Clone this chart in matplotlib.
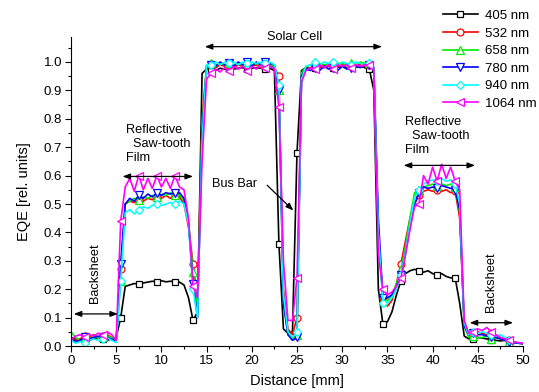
import numpy as np
import matplotlib
matplotlib.use("Agg")
import matplotlib.pyplot as plt
from matplotlib.ticker import MultipleLocator

plt.rcParams['font.family'] = ['Liberation Sans', 'DejaVu Sans']

# distance grid, 0.5 mm steps
dist = np.arange(0, 50.01, 0.5)

labels = ["405 nm", "532 nm", "658 nm", "780 nm", "940 nm", "1064 nm"]

# 0-5 | 5.5-14 | 14.5-22.5 | 23-25 | 25.5-33 | 33.5-38 | 38.5-43 | 43.5-50
eqe_405 = ([0.03, 0.025, 0.02, 0.025, 0.02, 0.025, 0.03, 0.025, 0.02, 0.025, 0.03]
           + [0.1, 0.21, 0.215, 0.22, 0.218, 0.222, 0.225, 0.228, 0.227, 0.23, 0.226, 0.228, 0.227, 0.225, 0.215, 0.17, 0.09, 0.12]
           + [0.96, 0.975, 0.975, 0.97, 0.978, 0.975, 0.98, 0.975, 0.978, 0.98, 0.975, 0.978, 0.98, 0.978, 0.975, 0.978, 0.97]
           + [0.36, 0.06, 0.045, 0.05, 0.68]
           + [0.97, 0.98, 0.978, 0.98, 0.982, 0.98, 0.985, 0.98, 0.982, 0.985, 0.98, 0.985, 0.982, 0.985, 0.98, 0.975]
           + [0.9, 0.2, 0.078, 0.085, 0.12, 0.18, 0.23, 0.255, 0.265, 0.27]
           + [0.265, 0.26, 0.265, 0.255, 0.25, 0.255, 0.245, 0.24, 0.24, 0.15]
           + [0.035, 0.025, 0.025, 0.03, 0.028, 0.025, 0.022, 0.02, 0.018, 0.02, 0.015, 0.012, 0.01, 0.01])

eqe_532 = ([0.03, 0.02, 0.025, 0.035, 0.03, 0.04, 0.03, 0.035, 0.04, 0.03, 0.02]
           + [0.27, 0.5, 0.51, 0.505, 0.515, 0.51, 0.52, 0.515, 0.525, 0.52, 0.53, 0.52, 0.53, 0.525, 0.5, 0.42, 0.29, 0.16]
           + [0.8, 0.985, 0.99, 0.98, 0.99, 0.985, 0.99, 0.98, 0.99, 0.985, 0.99, 0.985, 0.99, 0.98, 0.985, 0.99, 0.98]
           + [0.95, 0.2, 0.06, 0.04, 0.10]
           + [0.95, 0.975, 0.98, 0.985, 0.98, 0.99, 0.985, 0.99, 0.985, 0.99, 0.99, 0.985, 0.99, 0.99, 0.985, 0.99]
           + [0.97, 0.4, 0.17, 0.14, 0.16, 0.22, 0.29, 0.37, 0.45, 0.5]
           + [0.53, 0.545, 0.55, 0.545, 0.55, 0.545, 0.55, 0.54, 0.545, 0.45]
           + [0.08, 0.035, 0.04, 0.05, 0.045, 0.04, 0.045, 0.035, 0.03, 0.025, 0.02, 0.015, 0.01, 0.008])

eqe_658 = ([0.05, 0.03, 0.02, 0.03, 0.025, 0.035, 0.03, 0.03, 0.035, 0.03, 0.02]
           + [0.23, 0.5, 0.51, 0.52, 0.515, 0.525, 0.52, 0.53, 0.525, 0.535, 0.53, 0.54, 0.53, 0.535, 0.51, 0.44, 0.26, 0.13]
           + [0.78, 0.99, 0.995, 0.99, 0.995, 0.99, 0.995, 0.99, 0.995, 0.99, 1.0, 0.99, 0.995, 0.99, 0.995, 0.99, 0.985]
           + [0.9, 0.15, 0.04, 0.025, 0.04]
           + [0.96, 0.985, 0.99, 0.99, 0.995, 0.99, 0.995, 0.99, 0.995, 0.995, 0.99, 0.995, 0.99, 1.0, 0.995, 0.995]
           + [0.975, 0.4, 0.16, 0.16, 0.18, 0.22, 0.27, 0.35, 0.45, 0.54]
           + [0.55, 0.56, 0.565, 0.57, 0.565, 0.57, 0.565, 0.57, 0.56, 0.47]
           + [0.07, 0.03, 0.035, 0.03, 0.03, 0.035, 0.025, 0.03, 0.025, 0.02, 0.015, 0.012, 0.01, 0.008])

eqe_780 = ([0.03, 0.015, 0.02, 0.03, 0.025, 0.03, 0.035, 0.03, 0.03, 0.025, 0.015]
           + [0.29, 0.5, 0.52, 0.51, 0.53, 0.52, 0.535, 0.525, 0.54, 0.53, 0.54, 0.535, 0.54, 0.54, 0.52, 0.43, 0.22, 0.1]
           + [0.75, 0.98, 0.99, 0.985, 1.0, 0.99, 0.995, 0.985, 1.0, 0.99, 1.0, 0.985, 1.0, 0.99, 1.0, 0.995, 0.99]
           + [0.9, 0.15, 0.04, 0.02, 0.03]
           + [0.95, 0.975, 0.97, 0.98, 0.97, 0.985, 0.975, 0.98, 0.97, 0.985, 0.975, 0.98, 0.985, 0.98, 0.99, 0.99]
           + [0.98, 0.45, 0.17, 0.17, 0.18, 0.21, 0.25, 0.33, 0.42, 0.5]
           + [0.54, 0.56, 0.555, 0.56, 0.555, 0.565, 0.56, 0.555, 0.55, 0.48]
           + [0.07, 0.04, 0.045, 0.04, 0.04, 0.035, 0.03, 0.03, 0.025, 0.02, 0.015, 0.012, 0.01, 0.008])

eqe_940 = ([0.02, 0.01, 0.015, 0.01, 0.02, 0.025, 0.02, 0.025, 0.03, 0.02, 0.012]
           + [0.23, 0.47, 0.48, 0.465, 0.48, 0.49, 0.485, 0.495, 0.5, 0.495, 0.5, 0.505, 0.5, 0.51, 0.5, 0.43, 0.2, 0.1]
           + [0.72, 0.99, 0.99, 1.0, 0.99, 1.0, 0.995, 1.0, 0.99, 1.0, 0.995, 1.0, 0.995, 1.0, 0.995, 1.0, 0.99]
           + [0.92, 0.18, 0.05, 0.03, 0.05]
           + [0.94, 0.985, 0.99, 1.0, 0.99, 1.0, 0.995, 1.0, 0.99, 1.0, 0.995, 0.99, 1.0, 0.995, 0.99, 0.995]
           + [0.975, 0.4, 0.15, 0.15, 0.17, 0.2, 0.25, 0.33, 0.43, 0.52]
           + [0.55, 0.57, 0.58, 0.585, 0.58, 0.59, 0.58, 0.585, 0.57, 0.5]
           + [0.08, 0.04, 0.05, 0.045, 0.05, 0.045, 0.04, 0.035, 0.04, 0.03, 0.02, 0.015, 0.012, 0.01])

eqe_1064 = ([0.02, 0.035, 0.04, 0.03, 0.04, 0.035, 0.045, 0.04, 0.05, 0.04, 0.02]
            + [0.44, 0.56, 0.59, 0.545, 0.6, 0.55, 0.59, 0.555, 0.6, 0.56, 0.59, 0.555, 0.6, 0.56, 0.55, 0.45, 0.21, 0.17]
            + [0.65, 0.94, 0.96, 0.975, 0.965, 0.98, 0.97, 0.985, 0.975, 0.985, 0.97, 0.985, 0.975, 0.99, 0.98, 0.985, 0.975]
            + [0.84, 0.3, 0.09, 0.09, 0.24]
            + [0.93, 0.97, 0.98, 0.975, 0.99, 0.98, 0.99, 0.975, 0.99, 0.985, 0.99, 0.98, 0.99, 0.985, 0.99, 0.99]
            + [0.97, 0.32, 0.2, 0.18, 0.19, 0.21, 0.24, 0.32, 0.41, 0.49]
            + [0.5, 0.6, 0.57, 0.63, 0.58, 0.64, 0.59, 0.63, 0.58, 0.55]
            + [0.09, 0.045, 0.05, 0.06, 0.055, 0.065, 0.05, 0.04, 0.03, 0.025, 0.02, 0.015, 0.012, 0.01])

series = [eqe_405, eqe_532, eqe_658, eqe_780, eqe_940, eqe_1064]
colors = ["black", "#ff0000", "#00ee00", "#0000ff", "#00ffff", "#ff00ff"]
markers = ["s", "o", "^", "v", "D", "<"]
msizes = [4.5, 5, 5.5, 5.5, 4.5, 6]

# where the symbols sit
mark_x = [1.5, 3.5, 5.5, 7.5, 9.5, 11.5, 13.5, 15.5, 17.5, 19.5, 21.5, 23.0, 25.0,
          27.0, 29.0, 31.0, 33.0, 34.5, 36.5, 38.5, 40.5, 42.5, 44.5, 46.5, 48.5]
mark_idx = [int(round(v / 0.5)) for v in mark_x]

fig = plt.figure(figsize=(5.39, 3.92), dpi=100)
ax = fig.add_axes([0.1317, 0.1173, 0.8386, 0.7883])

lines = []
for y, c, m, ms, lab in zip(series, colors, markers, msizes, labels):
    ln, = ax.plot(dist, y, color=c, lw=1.2, marker=m, ms=ms, mfc="white", mec=c,
                  mew=0.9, markevery=mark_idx, label=lab)
    lines.append(ln)

ax.set_xlim(0, 50)
ax.set_ylim(0, 1.088)
ax.xaxis.set_major_locator(MultipleLocator(5))
ax.xaxis.set_minor_locator(MultipleLocator(2.5))
ax.yaxis.set_major_locator(MultipleLocator(0.1))
ax.yaxis.set_minor_locator(MultipleLocator(0.05))
ax.yaxis.set_major_formatter(plt.FormatStrFormatter("%.1f"))
ax.spines["top"].set_visible(False)
ax.spines["right"].set_visible(False)
ax.tick_params(which="major", direction="out", length=4, width=0.8, labelsize=9.5, pad=2.5)
ax.tick_params(which="minor", direction="out", length=2, width=0.8)
ax.set_xlabel("Distance [mm]", fontsize=10.5, labelpad=5)
ax.set_ylabel("EQE [rel. units]", fontsize=10.5, labelpad=9)

arr = dict(arrowstyle="<|-|>,head_length=0.45,head_width=0.17", color="black", lw=0.9,
           shrinkA=0, shrinkB=0)
fs = 9.2

# backsheet left
ax.annotate("", xy=(0.3, 0.113), xytext=(5.2, 0.113), arrowprops=arr)
ax.text(2.65, 0.258, "Backsheet", rotation=90, ha="center", va="center", fontsize=fs)

# film left
ax.annotate("", xy=(5.7, 0.597), xytext=(13.5, 0.597), arrowprops=arr)
ax.text(6.1, 0.78, "Reflective\n  Saw-tooth\nFilm", ha="left", va="top", fontsize=fs,
        linespacing=1.2)

# solar cell
ax.annotate("", xy=(14.8, 1.054), xytext=(34.4, 1.054), arrowprops=arr, annotation_clip=False)
ax.text(24.7, 1.088, "Solar Cell", ha="center", va="center", fontsize=fs, clip_on=False)

# bus bar
ax.text(18.1, 0.571, "Bus Bar", ha="center", va="center", fontsize=fs)
ax.annotate("", xy=(24.6, 0.477), xytext=(21.7, 0.566),
            arrowprops=dict(arrowstyle="-|>,head_length=0.45,head_width=0.17",
                            color="black", lw=0.9, shrinkA=0, shrinkB=0))

# film right
ax.annotate("", xy=(36.8, 0.636), xytext=(44.7, 0.636), arrowprops=arr)
ax.text(36.9, 0.81, "Reflective\n  Saw-tooth\nFilm", ha="left", va="top", fontsize=fs,
        linespacing=1.2)

# backsheet right
ax.annotate("", xy=(44.1, 0.082), xytext=(48.9, 0.082), arrowprops=arr)
ax.text(46.5, 0.223, "Backsheet", rotation=90, ha="center", va="center", fontsize=fs)

fig.legend(handles=lines, loc="upper right", bbox_to_anchor=(1.01, 0.995), frameon=False,
           fontsize=9.5, handlelength=2.7, handletextpad=0.5, labelspacing=0.4,
           borderaxespad=0.2)

fig.savefig("out.png", dpi=100)
